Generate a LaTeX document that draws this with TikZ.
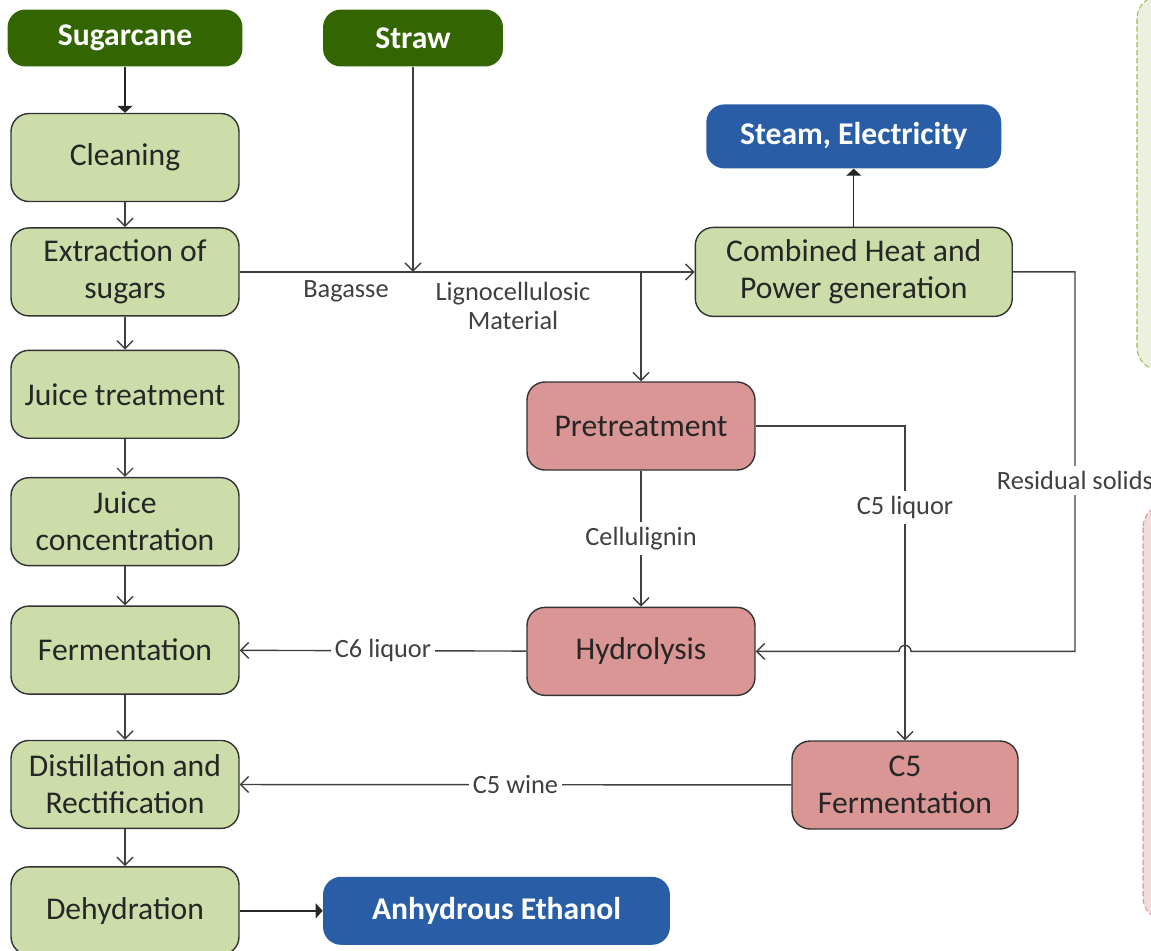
\documentclass[tikz,border=0pt]{standalone}
\usepackage{fontspec}
\setmainfont{Carlito}
\usetikzlibrary{arrows.meta, positioning, calc}
\definecolor{darkgreen}{RGB}{51,102,0}
\definecolor{lightgreen}{RGB}{204,221,170}
\definecolor{rosered}{RGB}{217,150,148}
\definecolor{prodblue}{RGB}{41,94,166}
\definecolor{panelgreen}{RGB}{235,241,222}
\definecolor{panelgreenline}{RGB}{155,187,89}
\definecolor{panelred}{RGB}{242,220,219}
\definecolor{panelredline}{RGB}{217,150,148}

\begin{document}
\begin{tikzpicture}[
  x=0.02cm, y=-0.02cm,
  node distance=0.8cm,
  box/.style={rectangle, draw=black!80, line width=0.8pt, fill=lightgreen, rounded corners=0.36cm,
              minimum height=1.76cm, minimum width=4.56cm, align=center, text=black!85,
              font=\fontsize{18}{21}\selectfont},
  ligbox/.style={box, fill=rosered},
  feedbox/.style={rectangle, fill=darkgreen, rounded corners=0.36cm, minimum height=1.14cm,
              text=white, font=\fontsize{18}{21}\selectfont\bfseries},
  prodbox/.style={feedbox, fill=prodblue},
  arrow/.style={-{Straight Barb[length=1.6mm,width=3.2mm]}, line width=0.8pt, black!75},
  fillarrow/.style={-{Triangle[length=1.4mm,width=3mm]}, line width=0.8pt, black!85},
  lbl/.style={font=\fontsize{15}{17}\selectfont, text=black!75, inner sep=1pt, align=center},
  panel/.style={dash pattern=on 3pt off 1.5pt, line width=0.6pt, rounded corners=0.45cm}
]
\useasboundingbox (0,0) rectangle (1151,950);

% side panels
\draw[panel, draw=panelgreenline, fill=panelgreen] (1137,-4) rectangle (1320,370);
\draw[panel, draw=panelredline, fill=panelred] (1143,505) rectangle (1320,920);

% sugarcane line
\node[feedbox, minimum width=4.7cm] (sugar) at (125,38) {Sugarcane};
\node[box, below=0.92cm of sugar] (clean) {Cleaning};
\node[box, below=0.50cm of clean] (extract) {Extraction of\\sugars};
\node[box, below=0.66cm of extract] (juice) {Juice treatment};
\node[box, below=0.76cm of juice] (conc) {Juice\\concentration};
\node[box, below=0.78cm of conc] (ferment) {Fermentation};
\node[box, below=0.90cm of ferment] (distil) {Distillation and\\Rectification};
\node[box, below=0.74cm of distil] (dehyd) {Dehydration};
\node[prodbox, minimum width=6.94cm, minimum height=1.36cm, right=1.66cm of dehyd] (ethanol) {Anhydrous Ethanol};

% straw line
\node[feedbox, minimum width=3.6cm] (straw) at (413,38) {Straw};
\node[box, minimum width=6.34cm, minimum height=1.78cm, right=9.1cm of extract] (chp) {Combined Heat and\\Power generation};
\node[prodbox, minimum width=5.9cm, minimum height=1.28cm, above=1.16cm of chp] (steam) {Steam, Electricity};
\node[ligbox] (pretreat) at (641,426) {Pretreatment};
\node[ligbox, below=2.72cm of pretreat] (hydro) {Hydrolysis};
\node[ligbox, minimum width=4.52cm] (c5ferm) at (905,785) {C5\\Fermentation};

\draw[fillarrow] (sugar)--(clean);
\draw[arrow] (clean)--(extract);
\draw[arrow] (extract)--(juice);
\draw[arrow] (juice)--(conc);
\draw[arrow] (conc)--(ferment);
\draw[arrow] (ferment)--(distil);
\draw[arrow] (distil)--(dehyd);
\draw[fillarrow] (dehyd)--(ethanol);

\draw[arrow] (extract.east)--(chp.west);
\draw[arrow] (straw.south)--(straw.south |- extract.east);
\node[lbl] (bagasse) at (346,291) {Bagasse};
\node[lbl] (ligno) at (513,306) {Lignocellulosic\\Material};
\draw[fillarrow] (chp)--(steam);
\draw[arrow] (pretreat.north |- chp.west)--(pretreat.north);
\draw[arrow] (pretreat)--node[lbl, fill=white, inner sep=3pt]{Cellulignin} (hydro);
\draw[arrow] (pretreat.east)-|node[lbl, fill=white, inner sep=3pt, pos=0.63]{C5 liquor} (c5ferm.north);

% residual solids jump over the C5 liquor line
\coordinate (rturn) at ($(chp.east)+(62,0)$);
\coordinate (hump) at ($(c5ferm.north |- hydro.east)+(6,0)$);
\draw[arrow] (chp.east)--(rturn)--node[lbl, fill=white, inner sep=3pt, pos=0.55]{Residual solids} (rturn |- hydro.east)
  --(hump) arc[start angle=0, end angle=180, radius=1.2mm]--(hydro.east);

\draw[arrow] (hydro)--node[lbl, fill=white, inner sep=2pt]{C6 liquor} (ferment);
\draw[arrow] (c5ferm)--node[lbl, fill=white, inner sep=2pt]{C5 wine} (distil);
\end{tikzpicture}
\end{document}
